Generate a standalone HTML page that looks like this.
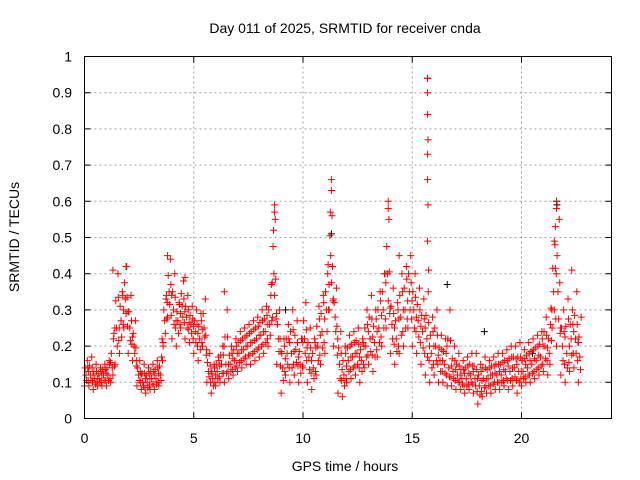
<!DOCTYPE html>
<html><head><meta charset="utf-8"><style>
body{margin:0;background:#fff}
svg{display:block;font-family:"Liberation Sans",sans-serif;font-size:14px}
</style></head><body>
<svg id="chart" width="640" height="480" viewBox="0 0 640 480" xmlns="http://www.w3.org/2000/svg">
<rect width="640" height="480" fill="#fff"/>
<text x="345" y="33" text-anchor="middle">Day 011 of 2025, SRMTID for receiver cnda</text>
<text x="345" y="471" text-anchor="middle">GPS time / hours</text>
<text transform="translate(19,237) rotate(-90)" text-anchor="middle">SRMTID / TECUs</text>
<g id="grid"></g>
<g id="ticks"></g>
<g id="marks"></g>
<rect x="84.5" y="56.5" width="527" height="362" fill="none" stroke="#000" stroke-width="1"/>
</svg>
<script>
const xTicks=[0,5,10,15,20];
const yTicks=[0,0.1,0.2,0.3,0.4,0.5,0.6,0.7,0.8,0.9,1];
const yTickLabels=["0","0.1","0.2","0.3","0.4","0.5","0.6","0.7","0.8","0.9","1"];
const times=[0,0.2,0.4,0.6,0.8,1,1.2,1.4,1.6,1.8,2,2.2,2.4,2.6,2.8,3,3.2,3.4,3.6,3.8,4,4.2,4.4,4.6,4.8,5,5.2,5.4,5.6,5.8,6,6.2,6.4,6.6,6.8,7,7.2,7.4,7.6,7.8,8,8.2,8.4,8.6,8.8,9,9.2,9.4,9.6,9.8,10,10.2,10.4,10.6,10.8,11,11.2,11.4,11.6,11.8,12,12.2,12.4,12.6,12.8,13,13.2,13.4,13.6,13.8,14,14.2,14.4,14.6,14.8,15,15.2,15.4,15.6,15.8,16,16.2,16.4,16.6,16.8,17,17.2,17.4,17.6,17.8,18,18.2,18.4,18.6,18.8,19,19.2,19.4,19.6,19.8,20,20.2,20.4,20.6,20.8,21,21.2,21.4,21.6,21.8,22,22.2,22.4,22.6];
const lo=[.09,.09,.08,.09,.09,.09,.10,.15,.18,.25,.18,.16,.09,.08,.07,.08,.08,.09,.20,.28,.22,.20,.25,.22,.21,.18,.16,.20,.10,.07,.09,.10,.10,.11,.12,.13,.14,.15,.15,.16,.17,.18,.20,.28,.15,.07,.12,.10,.12,.10,.14,.10,.08,.12,.15,.18,.30,.20,.07,.06,.10,.11,.12,.10,.14,.15,.13,.17,.20,.25,.18,.15,.18,.20,.25,.20,.18,.15,.12,.10,.12,.10,.10,.09,.09,.08,.08,.07,.08,.07,.04,.06,.07,.07,.08,.08,.09,.08,.09,.07,.09,.10,.10,.11,.12,.13,.12,.25,.20,.12,.10,.13,.14,.10];
const mid=[.12,.12,.11,.11,.12,.12,.14,.25,.27,.33,.25,.20,.12,.10,.10,.11,.11,.12,.27,.35,.30,.27,.31,.28,.26,.24,.22,.25,.13,.11,.13,.15,.15,.15,.16,.18,.19,.20,.21,.22,.23,.24,.26,.40,.22,.14,.18,.18,.19,.15,.22,.17,.14,.20,.24,.30,.45,.28,.15,.12,.16,.17,.18,.16,.20,.22,.21,.25,.30,.40,.26,.22,.28,.30,.35,.30,.27,.24,.22,.18,.20,.16,.15,.14,.13,.12,.11,.11,.12,.11,.09,.11,.11,.12,.12,.12,.13,.13,.14,.13,.13,.14,.15,.16,.17,.20,.18,.35,.35,.20,.18,.22,.22,.17];
const hi=[.16,.17,.15,.14,.15,.16,.22,.40,.35,.42,.34,.27,.16,.15,.14,.15,.16,.17,.33,.44,.40,.32,.38,.34,.31,.30,.29,.33,.18,.15,.17,.20,.30,.20,.22,.24,.25,.26,.27,.28,.30,.31,.34,.55,.30,.22,.26,.30,.27,.22,.32,.25,.22,.31,.34,.40,.56,.36,.24,.20,.23,.24,.25,.22,.30,.34,.30,.35,.40,.55,.36,.32,.40,.42,.45,.40,.36,.33,.35,.28,.30,.23,.22,.30,.20,.18,.16,.17,.18,.18,.15,.17,.16,.17,.18,.18,.19,.20,.20,.21,.19,.21,.22,.23,.24,.28,.26,.48,.55,.30,.33,.30,.35,.28];
const spikeTimes=[8.7,8.7,8.65,11.3,11.3,11.25,13.9,13.9,15.7,15.7,15.7,15.72,15.7,15.7,15.72,15.7,15.75,21.6,21.6,21.55,21.5,1.3,3.8,14.4,22.3,1.9,4.6,6.4];
const spikeVals=[.59,.57,.52,.66,.63,.57,.60,.58,.94,.90,.84,.77,.73,.66,.59,.49,.41,.60,.58,.53,.49,.41,.45,.45,.41,.42,.39,.35];
const blackTimes=[15.7,21.6,21.62,11.3,16.6,18.3,20.5,22.6,9.2];
const blackVals=[.94,.60,.59,.51,.37,.24,.18,.21,.30];

const X=t=>84.5+t*21.85, Y=v=>418.5-v*362;
const NS="http://www.w3.org/2000/svg";
const grid=document.getElementById('grid'),ticks=document.getElementById('ticks'),marks=document.getElementById('marks');
function mk(tag,at,parent){const e=document.createElementNS(NS,tag);for(const k in at)e.setAttribute(k,at[k]);parent.appendChild(e);return e;}
yTicks.forEach((v,i)=>{
  if(i>0&&i<yTicks.length-1){const g=mk('line',{x1:84.5,x2:611.5,y1:Y(v),y2:Y(v),stroke:'#a0a0a0','stroke-dasharray':'2,3'},grid);
  
  }
  const tk=mk('path',{d:`M84.5 ${Y(v)}h6M611.5 ${Y(v)}h-6`,stroke:'#000'},ticks);
  
  
  const t=mk('text',{x:72,y:Y(v)+5,'text-anchor':'end'},ticks);t.textContent=yTickLabels[i];
  
  
});
xTicks.forEach(v=>{
  if(v>0){const g=mk('line',{x1:X(v),x2:X(v),y1:56.5,y2:418.5,stroke:'#a0a0a0','stroke-dasharray':'2,3'},grid);
  
  }
  const tk=mk('path',{d:`M${X(v)} 418.5v-6M${X(v)} 56.5v6`,stroke:'#000'},ticks);
  
  
  const t=mk('text',{x:X(v),y:443,'text-anchor':'middle'},ticks);t.textContent=String(v);
  
  
});
function plus(t,v,c){const p=mk('path',{d:`M${X(t)-3.5} ${Y(v)}h7M${X(t)} ${Y(v)-3.5}v7`,stroke:c,'stroke-width':1},marks);
  
  }
blackTimes.forEach((t,i)=>plus(t,blackVals[i],'#000'));
times.forEach((t,i)=>{plus(t,lo[i],'#f00');plus(t+0.07,mid[i],'#f00');plus(t+0.13,hi[i],'#f00');
  plus(t+0.1,(lo[i]+mid[i])/2,'#f00');plus(t+0.03,(mid[i]+hi[i])/2,'#f00');
  if(i<times.length-1){plus(t+0.17,(mid[i]+lo[i+1])/2,'#f00');plus(t+0.15,(hi[i]+mid[i+1])/2,'#f00');
    plus(t+0.19,(lo[i]+hi[i+1])/2,'#f00');}});
spikeTimes.forEach((t,i)=>plus(t,spikeVals[i],'#f00'));
</script>
</body></html>
